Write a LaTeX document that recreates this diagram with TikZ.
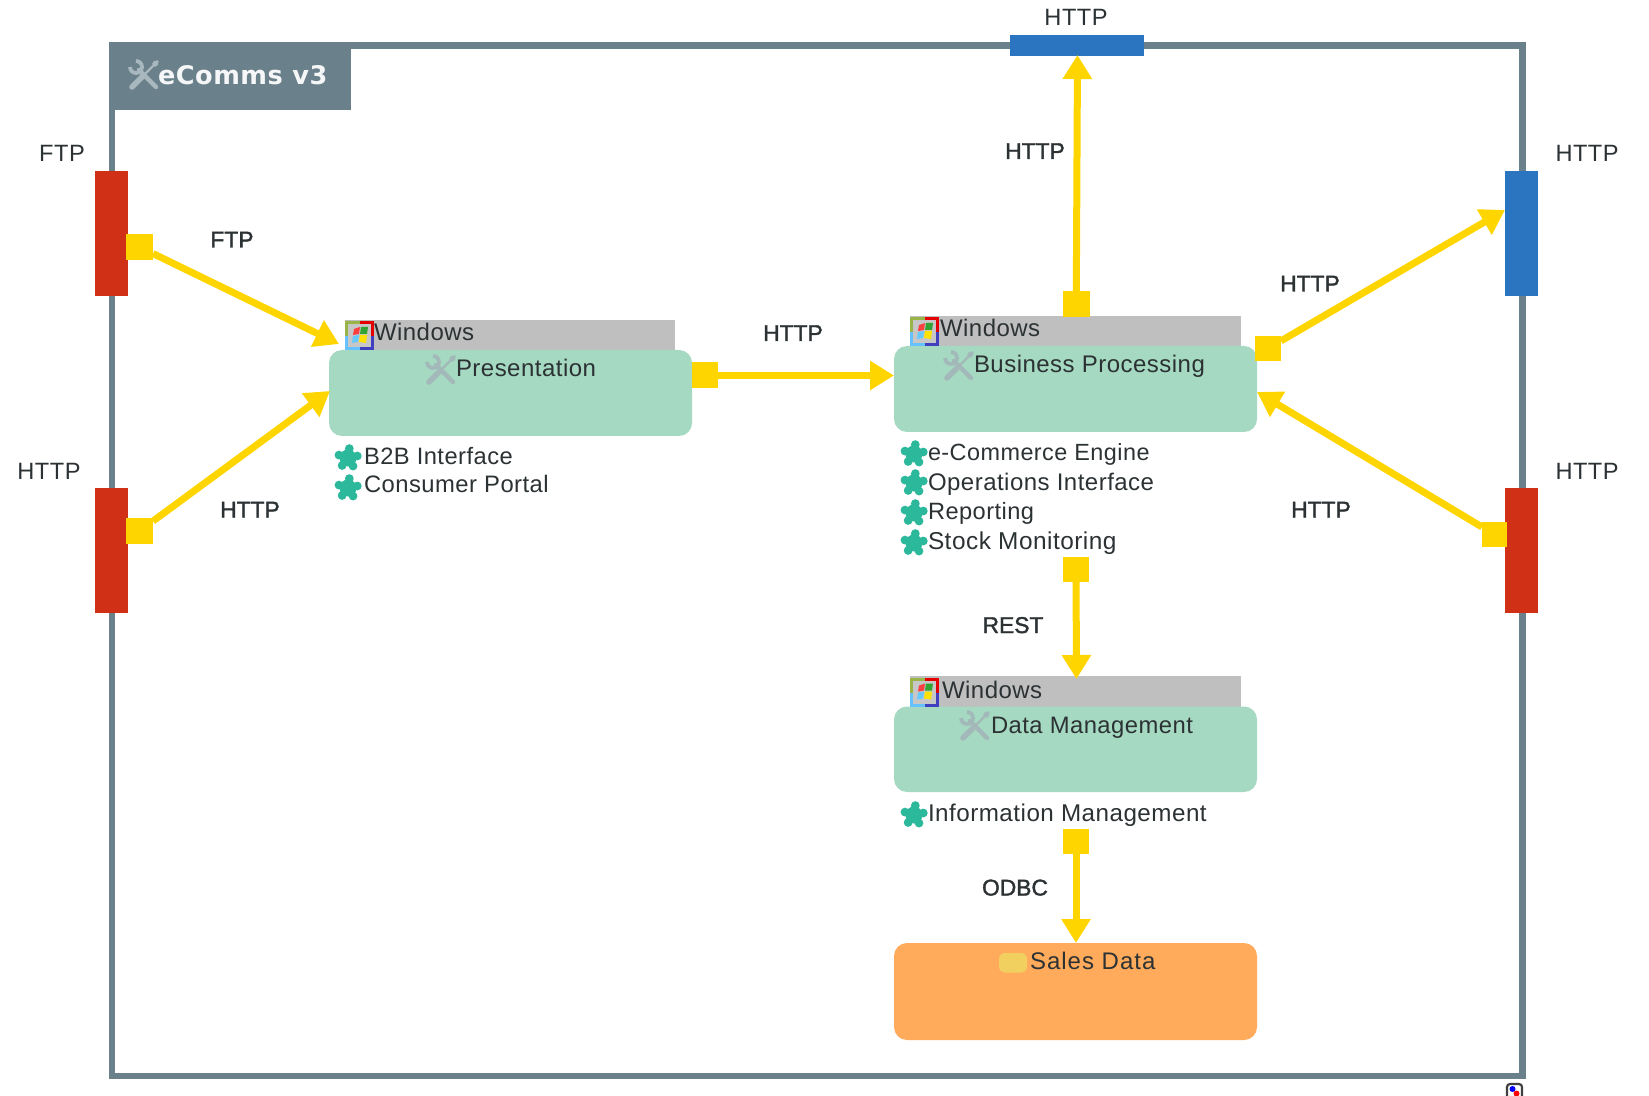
\documentclass[tikz,border=0pt]{standalone}
\usepackage{fontspec}
\setmainfont{Liberation Sans}
\newfontfamily\titlefont[LetterSpace=2]{DejaVu Sans Bold}
\newfontfamily\medfont[FakeBold=1.6]{Liberation Sans}
\newfontfamily\spacedfont[LetterSpace=2]{Liberation Sans}
\newfontfamily\widefont[LetterSpace=4.2]{Liberation Sans}
\usetikzlibrary{arrows.meta}
\definecolor{frameC}{HTML}{6A808A}
\definecolor{portR}{HTML}{CF3016}
\definecolor{portB}{HTML}{2B74BF}
\definecolor{sqY}{HTML}{FFD500}
\definecolor{mintC}{HTML}{A5D9C1}
\definecolor{barC}{HTML}{BFBFBF}
\definecolor{orangeC}{HTML}{FFAB5B}
\definecolor{tealC}{HTML}{2CB89B}
\definecolor{toolC}{HTML}{A3B8B8}
\definecolor{toolT}{HTML}{A9B8BE}
\definecolor{iconY}{HTML}{F2D060}
\definecolor{txtC}{HTML}{2C3234}
\tikzset{
  x=.5pt,y=-.5pt,
  solid box/.style={inner sep=0pt,outer sep=0pt,draw=none,rectangle},
  portR/.style={solid box,fill=portR},
  portB/.style={solid box,fill=portB},
  connbox/.style={solid box,fill=sqY},
  barbox/.style={solid box,fill=barC},
  tierbox/.style={solid box,fill=mintC,rounded corners=6.5pt},
  databox/.style={solid box,fill=orangeC,rounded corners=6.5pt},
  txt/.style={inner sep=0pt,outer sep=0pt,text height=9pt,text depth=0pt,text=txtC,font=\fontsize{12.2pt}{14pt}\selectfont},
  itemtxt/.style={txt,anchor=west,font=\spacedfont\fontsize{#1}{14pt}\selectfont},
  itemtxt/.default=12pt,
  portlbl/.style={txt,font=\spacedfont\fontsize{11.8pt}{14pt}\selectfont},
  connlbl/.style={txt,font=\medfont\fontsize{11.4pt}{14pt}\selectfont},
  conn/.style={draw=sqY,line width=3.5pt,-{Triangle[width=14pt,length=12pt]}},
}
\newcommand\boxnode[6]{%
  \pgfmathsetmacro\bw{(#5-#3)*.5}\pgfmathsetmacro\bh{(#6-#4)*.5}%
  \node[#1,minimum width=\bw pt,minimum height=\bh pt] (#2) at ({(#3+#5)/2},{(#4+#6)/2}) {};}
\newcommand\toolicon[3]{\begin{scope}[shift={(#1,#2)}]
  \draw[#3,line width=1.2pt] (14,-14)--(0,0);
  \fill[#3] (10,-14)--(14,-14)--(14,-10)--(11,-8)--(8,-11)--cycle;
  \draw[#3,line width=2.8pt,line cap=round] (-1,1)--(-12,12);
  \draw[#3,line width=2.2pt,line cap=round] (-5,-5)--(12,12);
  \draw[#3,line width=1.9pt] (-8,-14) arc[start angle=270,end angle=540,radius=6];
\end{scope}}
\newcommand\puzzle[2]{\begin{scope}[shift={(#1,#2)}]
  \fill[tealC] (0,0) circle (8.5);
  \foreach \a in {-82,-12,58,128,198}{\fill[tealC] (\a:9.5) circle (4.4);}
\end{scope}}
\newcommand\winicon[2]{\begin{scope}[shift={(#1,#2)}]
  \fill[white!78!black] (0,0) rectangle (29,29);
  \fill[olive!65!green!70!white] (0,0) rectangle (15,3);\fill[olive!65!green!70!white] (0,0) rectangle (3,15);
  \fill[red!90!black] (15,0) rectangle (29,3);\fill[red!90!black] (26,0) rectangle (29,15);
  \fill[blue!40!cyan!60!white] (0,26) rectangle (15,29);\fill[blue!40!cyan!60!white] (0,15) rectangle (3,29);
  \fill[blue!50!gray] (15,26) rectangle (29,29);\fill[blue!50!gray] (26,15) rectangle (29,29);
  \fill[red!75!white] (9,8)--(15,6)--(14,13)--(8,14)--cycle;
  \fill[green!55!black!80!white] (16,6)--(23,6)--(22,13)--(15,13)--cycle;
  \fill[blue!35!cyan!60!white] (8,15)--(14,14)--(13,21)--(7,22)--cycle;
  \fill[yellow!85!orange] (15,14)--(22,14)--(21,22)--(14,21)--cycle;
\end{scope}}
\begin{document}
\begin{tikzpicture}
\useasboundingbox (0,0) rectangle (1649,1096);
\fill[white] (0,0) rectangle (1649,1096);
% frame
\boxnode{draw=frameC,line width=3.25pt,inner sep=0pt,outer sep=0pt}{frame}{112}{45.5}{1522.5}{1076}
\boxnode{solid box,fill=frameC}{titlebar}{115}{49}{351}{110}
\toolicon{144}{75}{toolT}
\node[txt,anchor=west,font=\titlefont\fontsize{12.8pt}{14pt}\selectfont,text=white!93!frameC] (title) at (158,76) {eComms v3};
% small bottom-right icon
\draw[black!75,line width=1.1pt,fill=white,rounded corners=1.5pt] (1507,1084) rectangle (1522,1110);
\fill[blue] (1512.5,1089) circle (3);
\fill[red] (1516.5,1093.5) circle (3);
% tier boxes
\boxnode{barbox}{barA}{345}{320.5}{675}{351}
\boxnode{tierbox}{pres}{329}{350}{692}{436}
\boxnode{barbox}{barB}{910}{316}{1241}{347}
\boxnode{tierbox}{biz}{894}{346}{1257}{432}
\boxnode{barbox}{barC}{910}{676}{1241}{707}
\boxnode{tierbox}{dm}{894}{706.5}{1257}{792}
\boxnode{databox}{sales}{894}{943}{1257}{1040}
% ports
\boxnode{portR}{pFTP}{95}{171}{128}{296.5}
\boxnode{portR}{pHL}{95}{487.5}{128}{613}
\boxnode{portB}{pTop}{1009.5}{35}{1144}{56}
\boxnode{portB}{pHR}{1505}{171}{1538}{296.5}
\boxnode{portR}{pRR}{1505}{487.5}{1538}{613}
% connector squares
\boxnode{connbox}{sA}{126}{234}{153}{260}
\boxnode{connbox}{sB}{126}{518}{153}{544}
\boxnode{connbox}{sC}{692}{362.5}{718}{388.5}
\boxnode{connbox}{sD}{1063}{291.5}{1089.5}{317}
\boxnode{connbox}{sE}{1255}{336}{1281}{361}
\boxnode{connbox}{sF}{1482}{522}{1507}{547}
\boxnode{connbox}{sG}{1063}{556.5}{1089}{581.5}
\boxnode{connbox}{sH}{1063}{829}{1089}{854}
\coordinate (tA) at (339,344);
\coordinate (tB) at (330,391);
\coordinate (tE) at (1505,210);
\coordinate (tF) at (1257,392);
\coordinate (tC) at (894,375.5);
\coordinate (tD) at (1077.5,55);
\coordinate (tG) at (1076.5,679);
\coordinate (tH) at (1076,943);
\draw[conn] (sA) -- (tA);
\draw[conn] (sB) -- (tB);
\draw[conn] (sC) -- (tC);
\draw[conn] (sD) -- (tD);
\draw[conn] (sE) -- (tE);
\draw[conn] (sF) -- (tF);
\draw[conn] (sG) -- (tG);
\draw[conn] (sH) -- (tH);
% windows icons and labels
\winicon{345}{321}
\winicon{910}{317}
\winicon{910}{677.5}
\node[itemtxt] (wA) at (374,332) {Windows};
\node[itemtxt] (wB) at (940,328) {Windows};
\node[itemtxt] (wC) at (942,689) {Windows};
\toolicon{441}{370}{toolC}
\toolicon{959}{366}{toolC}
\toolicon{975}{726}{toolC}
\node[itemtxt] (nPres) at (456,368) {Presentation};
\node[itemtxt] (nBiz) at (974,364) {Business Processing};
\node[itemtxt=11.9pt] (nDm) at (991,724) {Data Management};
\fill[rounded corners=3pt,fill=iconY] (999,953) rectangle (1027,972.5);
\node[txt,anchor=west,font=\widefont\fontsize{12pt}{14pt}\selectfont] (nSales) at (1030,960) {Sales Data};
% items
\puzzle{348}{458}\puzzle{348}{488}
\node[itemtxt=11.85pt] (i1) at (364,456) {B2B Interface};
\node[itemtxt=11.9pt] (i2) at (364,484) {Consumer Portal};
\puzzle{914}{454}\puzzle{914}{483}\puzzle{914}{513}\puzzle{914}{543}\puzzle{914}{815}
\node[itemtxt=11.7pt] (i3) at (928,451) {e-Commerce Engine};
\node[itemtxt] (i4) at (928,481) {Operations Interface};
\node[itemtxt=11.8pt] (i5) at (928,510) {Reporting};
\node[itemtxt=12.2pt] (i6) at (928,540) {Stock Monitoring};
\node[itemtxt=12.1pt] (i7) at (928,812) {Information Management};
% port labels
\node[portlbl] (lFTP) at (62,153) {FTP};
\node[portlbl] (lHL) at (49,471) {HTTP};
\node[portlbl] (lTop) at (1076,17) {HTTP};
\node[portlbl] (lHR) at (1587,153) {HTTP};
\node[portlbl] (lRR) at (1587,471) {HTTP};
% connector labels
\node[connlbl] (cA) at (232,238.5) {FTP};
\node[connlbl] (cB) at (250,508.5) {HTTP};
\node[connlbl] (cC) at (793,332) {HTTP};
\node[connlbl] (cD) at (1035,150) {HTTP};
\node[connlbl] (cE) at (1310,282.5) {HTTP};
\node[connlbl] (cF) at (1321,508.5) {HTTP};
\node[connlbl] (cG) at (1013,624) {REST};
\node[connlbl] (cH) at (1015,886.5) {ODBC};
\end{tikzpicture}
\end{document}
